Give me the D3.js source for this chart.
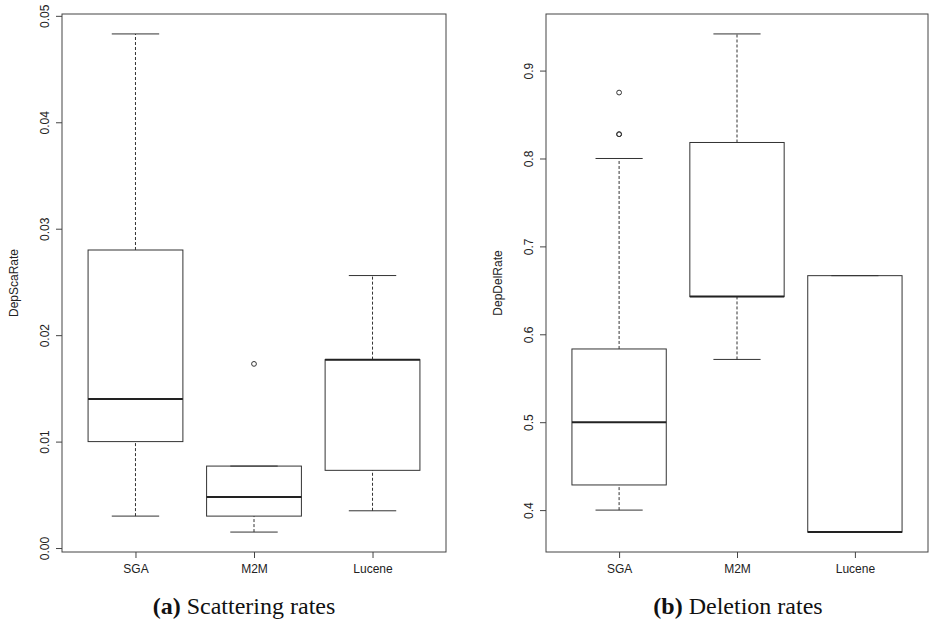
<!DOCTYPE html>
<html>
<head>
<meta charset="utf-8">
<script src="https://cdn.jsdelivr.net/npm/d3@7"></script>
<style>
  body { margin: 0; background: #fff; }
  svg { display: block; }
  .tick text, .ylab { font-family: "Liberation Sans", Arial, sans-serif; font-size: 12px; fill: #222; }
  .caption { font-family: "Liberation Serif", "Times New Roman", serif; font-size: 24px; fill: #111; }
</style>
</head>
<body>
<div class="chart"></div>
<script>
const categories = ["SGA", "M2M", "Lucene"];

// five-number summaries per category: [lower whisker, Q1, median, Q3, upper whisker]
const scaStats = [[0.0030, 0.0100, 0.0140, 0.0280, 0.0483],
                  [0.0015, 0.0030, 0.0048, 0.0077, 0.0077],
                  [0.0035, 0.0073, 0.0177, 0.0177, 0.0256]];
const scaOutliers = [[], [0.0173], []];
const scaTicks = [0, 0.01, 0.02, 0.03, 0.04, 0.05];
const scaTickLabels = ["0.00", "0.01", "0.02", "0.03", "0.04", "0.05"];

const delStats = [[0.400, 0.4286, 0.500, 0.5833, 0.800],
                  [0.5714, 0.6429, 0.6429, 0.8182, 0.9417],
                  [0.375, 0.375, 0.375, 0.6667, 0.6667]];
const delOutliers = [[0.875, 0.8276, 0.8276], [], []];
const delTicks = [0.4, 0.5, 0.6, 0.7, 0.8, 0.9];
const delTickLabels = ["0.4", "0.5", "0.6", "0.7", "0.8", "0.9"];

const width = 929, height = 623;
const plotTop = 14, plotBottom = 552;

const svg = d3.select(".chart").append("svg")
    .attr("width", width)
    .attr("height", height);

function panel(opts){
  const stats = opts.stats, outliers = opts.outliers;
  const lo = d3.min(stats, d => d[0]), hi = d3.max(stats.map((d, i) => d3.max([d[4], ...outliers[i]])));
  const ext = (hi - lo) * 0.04;

  const x = d3.scaleLinear()
      .domain([0.5 - 0.12, categories.length + 0.5 + 0.12])
      .range([opts.left, opts.right]);

  const y = d3.scaleLinear()
      .domain([lo - ext, hi + ext])
      .range([plotBottom, plotTop]);

  const g = svg.append("g");
  const boxW = x(1.8) - x(1), capW = boxW / 2;

  const boxes = g.selectAll("g.box")
      .data(stats)
    .enter().append("g")
      .attr("class", "box")
      .attr("transform", (d, i) => "translate(" + x(i + 1) + ",0)");

  // whiskers
  boxes.append("line")
      .attr("y1", d => y(d[3])).attr("y2", d => y(d[4]))
      .attr("stroke", "#333").attr("stroke-dasharray", "3,2");
  boxes.append("line")
      .attr("y1", d => y(d[0])).attr("y2", d => y(d[1]))
      .attr("stroke", "#333").attr("stroke-dasharray", "3,2");
  boxes.append("line")
      .attr("x1", -capW / 2).attr("x2", capW / 2)
      .attr("y1", d => y(d[4])).attr("y2", d => y(d[4]))
      .attr("stroke", "#333");
  boxes.append("line")
      .attr("x1", -capW / 2).attr("x2", capW / 2)
      .attr("y1", d => y(d[0])).attr("y2", d => y(d[0]))
      .attr("stroke", "#333");

  boxes.append("rect")
      .attr("x", -boxW / 2)
      .attr("width", boxW)
      .attr("y", d => y(d[3]))
      .attr("height", d => y(d[1]) - y(d[3]))
      .attr("fill", "none")
      .attr("stroke", "#333");

  boxes.append("line")
      .attr("x1", -boxW / 2).attr("x2", boxW / 2)
      .attr("y1", d => y(d[2])).attr("y2", d => y(d[2]))
      .attr("stroke", "#222").attr("stroke-width", 2);

  boxes.selectAll("circle")
      .data((d, i) => outliers[i])
    .enter().append("circle")
      .attr("cy", d => y(d))
      .attr("r", 2.4)
      .attr("fill", "none")
      .attr("stroke", "#333");

  // frame
  g.append("rect")
      .attr("x", opts.left).attr("y", plotTop)
      .attr("width", opts.right - opts.left).attr("height", plotBottom - plotTop)
      .attr("fill", "none").attr("stroke", "#444");

  const yAxis = g.append("g")
      .attr("transform", "translate(" + opts.left + ",0)")
      .call(d3.axisLeft(y).tickValues(opts.ticks).tickSize(6)
        .tickFormat((d, i) => opts.tickLabels[i]));
  yAxis.select(".domain").remove();
  yAxis.selectAll("line").attr("stroke", "#444");
  yAxis.selectAll("text")
      .attr("transform", "rotate(-90)")
      .attr("x", 0).attr("y", -13).attr("dy", 0)
      .attr("text-anchor", "middle")
      .attr("fill", "#222");

  const xAxis = g.append("g")
      .attr("transform", "translate(0," + plotBottom + ")")
      .call(d3.axisBottom(x).tickValues(d3.range(1, categories.length + 1)).tickSize(6)
        .tickFormat(d => categories[d - 1]));
  xAxis.select(".domain").remove();
  xAxis.selectAll("line").attr("stroke", "#444");
  xAxis.selectAll("text").attr("y", 21).attr("dy", 0).attr("fill", "#222");

  g.append("text")
      .attr("class", "ylab")
      .attr("transform", "translate(" + (opts.left - 44) + "," + ((plotTop + plotBottom) / 2) + ") rotate(-90)")
      .attr("text-anchor", "middle")
      .text(opts.ylabel);

  const cap = g.append("text")
      .attr("class", "caption")
      .attr("x", opts.captionX)
      .attr("y", 614)
      .attr("text-anchor", "middle");
  cap.append("tspan").attr("font-weight", "bold").text(opts.captionTag);
  cap.append("tspan").text(" " + opts.caption);
}

panel({left: 62, right: 446, stats: scaStats, outliers: scaOutliers,
       ticks: scaTicks, tickLabels: scaTickLabels, ylabel: "DepScaRate",
       captionX: 244, captionTag: "(a)", caption: "Scattering rates"});

panel({left: 546, right: 928, stats: delStats, outliers: delOutliers,
       ticks: delTicks, tickLabels: delTickLabels, ylabel: "DepDelRate",
       captionX: 738, captionTag: "(b)", caption: "Deletion rates"});
</script>
</body>
</html>
